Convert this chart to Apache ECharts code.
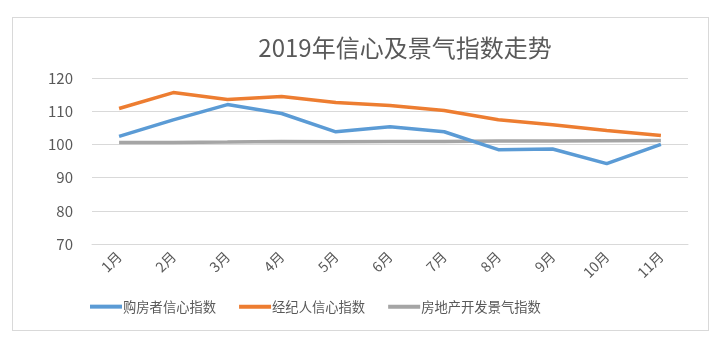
<!DOCTYPE html>
<html>
<head>
<meta charset="utf-8">
<script src="https://cdn.jsdelivr.net/npm/echarts@6/dist/echarts.min.js"></script>
<style>
  html, body { margin: 0; padding: 0; background: #fff; }
  #frame {
    position: absolute; left: 12px; top: 17px; width: 697px; height: 314px;
    border: 1px solid #d9d9d9; box-sizing: border-box;
  }
  #chart { position: absolute; left: 0; top: 0; width: 722px; height: 352px; }
</style>
</head>
<body>
<div id="frame"></div>
<div id="chart"></div>
<script>
// Chart data
const months = ['1月', '2月', '3月', '4月', '5月', '6月', '7月', '8月', '9月', '10月', '11月'];
const buyerIndex = [102.4, 107.4, 112.0, 109.3, 103.8, 105.3, 103.8, 98.4, 98.6, 94.2, 100.0];
const agentIndex = [110.8, 115.6, 113.5, 114.4, 112.6, 111.7, 110.2, 107.4, 105.9, 104.2, 102.7];
const climateIndex = [100.6, 100.6, 100.7, 100.9, 100.8, 100.9, 100.9, 101.0, 101.0, 101.1, 101.2];
const yTicks = [70, 80, 90, 100, 110, 120];

const seriesNames = ['购房者信心指数', '经纪人信心指数', '房地产开发景气指数'];
const seriesColors = ['#5b9bd5', '#ed7d31', '#a5a5a5'];
const seriesData = [buyerIndex, agentIndex, climateIndex];

const fontFamily = '"Noto Sans CJK SC", "Noto Sans", sans-serif';

document.addEventListener('DOMContentLoaded', function() {
    const chartDom = document.getElementById('chart');
    const myChart = echarts.init(chartDom);

    const option = {
        animation: false,
        textStyle: { fontFamily: fontFamily },
        title: {
            text: '2019年信心及景气指数走势',
            left: 400,
            top: 31,
            textAlign: 'center',
            textStyle: {
                fontFamily: fontFamily,
                fontSize: 24,
                fontWeight: 'normal',
                color: '#595959'
            }
        },
        legend: {
            left: 85,
            top: 295,
            icon: 'rect',
            itemWidth: 32,
            itemHeight: 4,
            itemGap: 23,
            textStyle: {
                fontFamily: fontFamily,
                fontSize: 13.3,
                color: '#595959',
                padding: [0, 0, 0, -4]
            },
            data: seriesNames
        },
        grid: {
            left: 92,
            right: 34,
            top: 78,
            bottom: 108
        },
        xAxis: {
            type: 'category',
            data: months,
            boundaryGap: true,
            axisLine: { lineStyle: { color: '#d9d9d9', width: 1 } },
            axisTick: { show: false },
            axisLabel: {
                rotate: 45,
                interval: 0,
                margin: 10,
                fontSize: 14,
                color: '#595959',
                fontFamily: fontFamily
            }
        },
        yAxis: {
            type: 'value',
            min: yTicks[0],
            max: yTicks[yTicks.length - 1],
            interval: 10,
            axisLine: { show: false },
            axisTick: { show: false },
            axisLabel: {
                margin: 19,
                fontSize: 15,
                color: '#595959',
                fontFamily: fontFamily
            },
            splitLine: { lineStyle: { color: '#d9d9d9', width: 1 } }
        },
        series: seriesNames.map((name, i) => ({
            name: name,
            type: 'line',
            data: seriesData[i],
            symbol: 'none',
            color: seriesColors[i],
            lineStyle: { width: 3.5, color: seriesColors[i] },
            z: 3 - i
        }))
    };

    myChart.setOption(option);
});
</script>
</body>
</html>
